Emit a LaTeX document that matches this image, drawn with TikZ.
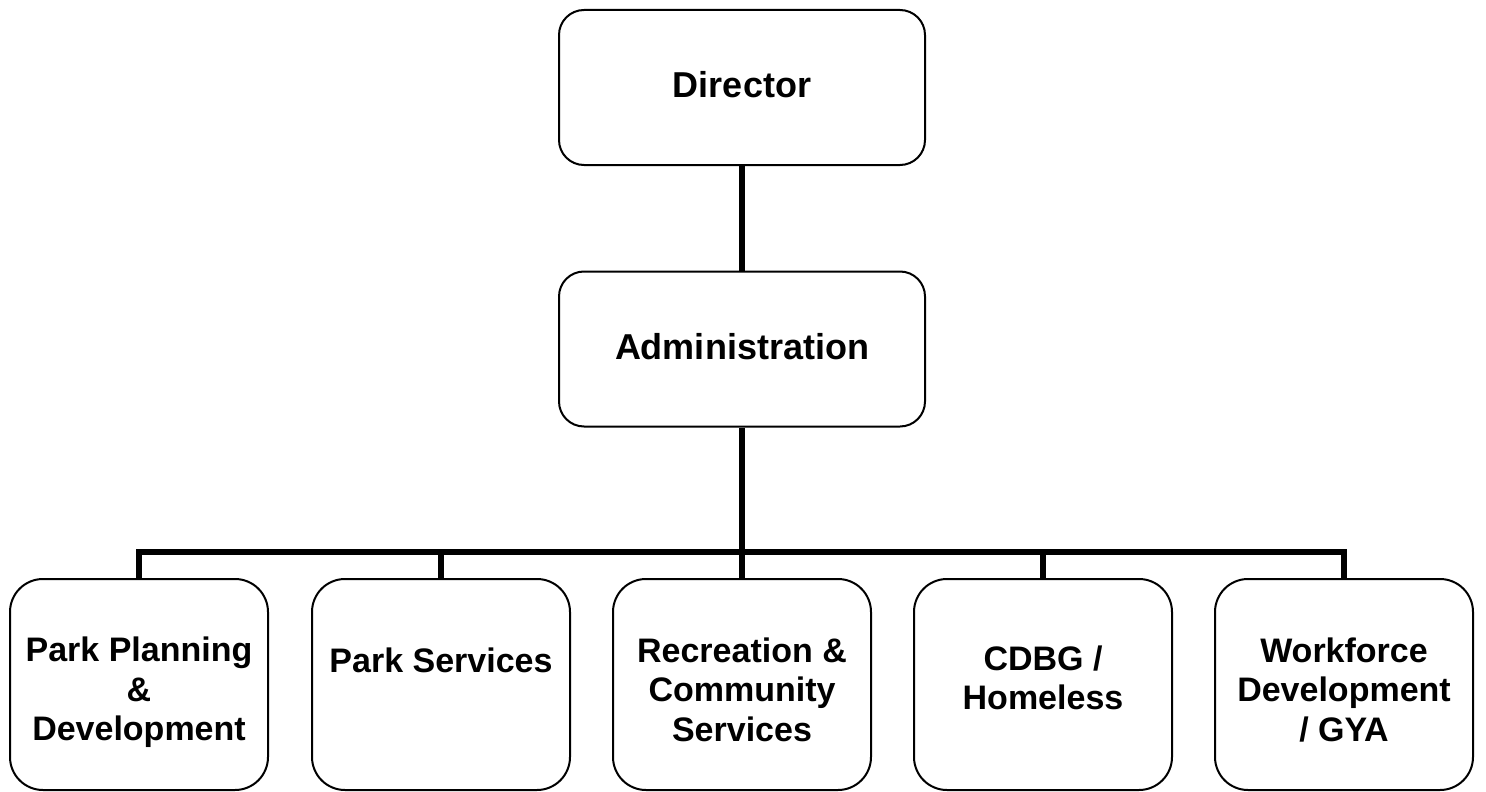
\documentclass[tikz,border=0pt]{standalone}
\usepackage{fontspec}
\setmainfont{Liberation Sans}
\newcommand\linestack[1]{\vtop{\halign{\hfil##\hfil\cr#1\crcr}}}
\begin{document}
\begin{tikzpicture}[x=1pt,y=-1pt,
  topbox/.style={draw=black, line width=2pt, rounded corners=25pt, fill=white,
    minimum width=366pt, minimum height=155pt, inner sep=0pt,
    font=\fontsize{36}{40}\selectfont\bfseries, text height=20pt, text depth=0pt},
  lowbox/.style={draw=black, line width=2pt, rounded corners=33pt, fill=white,
    minimum width=258pt, minimum height=211pt, inner sep=0pt,
    font=\fontsize{34}{39.5}\selectfont\bfseries, text height=0pt, text depth=#1},
  conn/.style={draw=black, line width=6pt}]
\useasboundingbox (0,0) rectangle (1486,792);
\fill[white] (0,0) rectangle (1486,792);
\node[topbox] (dir) at (742,87.5) {Director};
\node[topbox] (adm) at (742,349) {Administration};
\node[lowbox=46pt] (b1) at (139,684.5) {\linestack{Park Planning\cr\&\cr Development}};
\node[lowbox=25pt] (b2) at (441,684.5) {\linestack{Park Services}};
\node[lowbox=45pt] (b3) at (742,684.5) {\linestack{Recreation \&\cr Community\cr Services}};
\node[lowbox=29pt] (b4) at (1043,684.5) {\linestack{CDBG /\cr Homeless}};
\node[lowbox=45pt] (b5) at (1344,684.5) {\linestack{Workforce\cr Development\cr / GYA}};
\coordinate (bus) at (742,552);
\draw[conn] (dir.south) -- (adm.north);
\draw[conn] (adm.south) -- (b3.north);
\draw[conn] (b1.north) |- (bus) -| (b5.north);
\draw[conn] (b2.north) -- (b2.north |- bus);
\draw[conn] (b4.north) -- (b4.north |- bus);
\end{tikzpicture}
\end{document}
